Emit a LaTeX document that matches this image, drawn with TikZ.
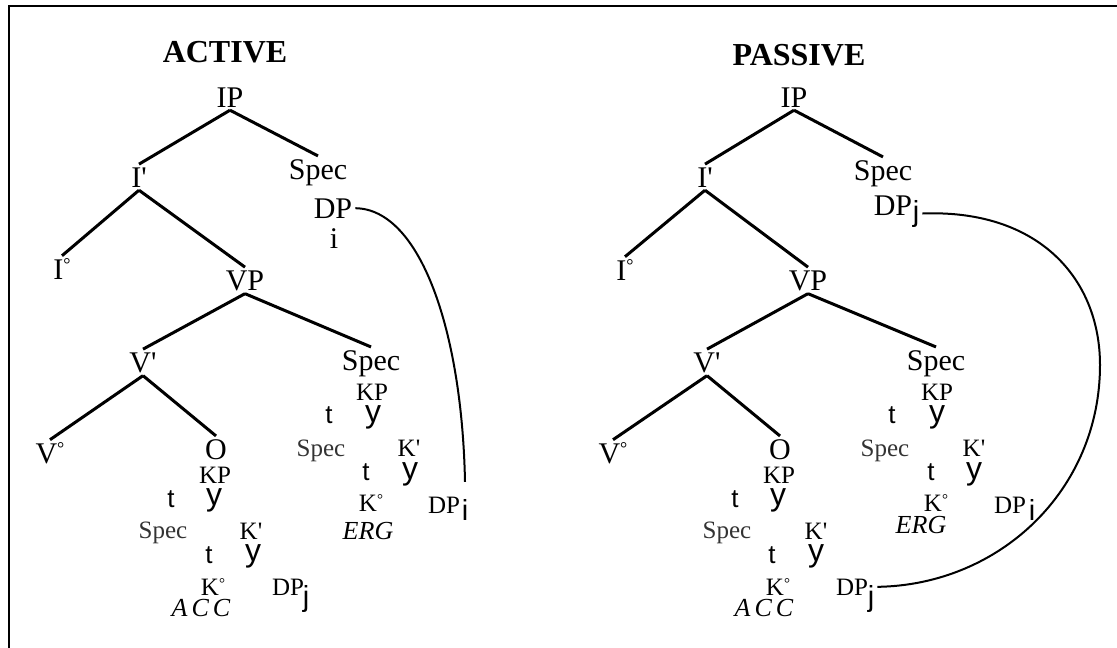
\documentclass[tikz,border=0pt]{standalone}
\usepackage{fontspec}
\setmainfont{Liberation Serif}
\setsansfont{Liberation Sans}
\usepackage{graphicx}
\usepackage{tikz}

% straight apostrophe, kept out of the TeX quote mapping
\newcommand{\tick}{\XeTeXglyph\XeTeXcharglyph"0027\relax}
% small raised degree sign
\newcommand{\dg}{\raisebox{0.27em}{\scalebox{0.6}{°}}}

\tikzset{
  title/.style={font=\fontsize{32}{34}\selectfont\bfseries,anchor=base,inner sep=3pt},
  big/.style={font=\fontsize{30}{32}\selectfont,anchor=base,inner sep=3pt},
  small/.style={font=\fontsize{25}{27}\selectfont,anchor=base,inner sep=3pt},
  minor/.style={small,text=black!80},
  case/.style={font=\fontsize{26}{28}\selectfont\itshape,anchor=base,inner sep=3pt},
  stem/.style={font=\sffamily\fontsize{26}{28}\selectfont,anchor=base,inner sep=2pt},
  fork/.style={font=\sffamily\fontsize{32}{34}\selectfont,anchor=base,inner sep=2pt},
  subs/.style={font=\sffamily\fontsize{29}{31}\selectfont,anchor=base,inner sep=3pt},
  branch/.style={line width=3pt},
  chain/.style={line width=2pt}
}

\begin{document}
\begin{tikzpicture}[x=1pt,y=-1pt]
            \useasboundingbox (0,0) rectangle (1117,648);

            % Frame (top and left only)
            \draw[line width=2.8pt] (9,648) -- (9,6) -- (1117,6);

            % Left side tree labels
            \node[title] (head1) at (225,62) {ACTIVE};
            \node[big] (ip1) at (230,107) {IP};
            \node[big] (ibar1) at (139,187) {I\tick};
            \node[big] (spec1) at (318,179) {Spec};
            \node[big] (dp1) at (333,218) {DP};
            \node[big] (idx1) at (334,248) {i};
            \node[big] (izero1) at (62,279) {I\dg};
            \node[big] (vp1) at (245,290) {VP};
            \node[big] (vbar1) at (143,372) {V\tick};
            \node[big] (specv1) at (371,370) {Spec};
            \node[big] (vzero1) at (50,463) {V\dg};
            \node[big] (obj1) at (216,459) {O};

            % Left side object KP
            \node[small] (kpo1) at (215,483) {KP};
            \node[stem] (to1) at (171,507) {t};
            \node[fork] (yo1) at (214,505) {y};
            \node[minor] (speco1) at (163,538) {Spec};
            \node[small] (kbaro1) at (251,539) {K\tick};
            \node[stem] (tto1) at (209,563) {t};
            \node[fork] (yyo1) at (253,561) {y};
            \node[small] (kzeroo1) at (213,595) {K\dg};
            \node[case] (acc1) at (201,616) {A\kern4pt C\kern4pt C};
            \node[small] (dpj1) at (288,595) {DP};
            \node[subs] (jsub1) at (306,606) {j};

            % Left side subject KP
            \node[small] (kps1) at (372,400) {KP};
            \node[stem] (ts1) at (329,423) {t};
            \node[fork] (ys1) at (373,422) {y};
            \node[minor] (specs1) at (321,456) {Spec};
            \node[small] (kbars1) at (409,456) {K\tick};
            \node[stem] (tts1) at (366,480) {t};
            \node[fork] (yys1) at (410,479) {y};
            \node[small] (kzeros1) at (371,511) {K\dg};
            \node[case] (erg1) at (368,539) {ERG};
            \node[small] (dpi1) at (444,513) {DP};
            \node[subs] (isub1) at (465,520) {i};

            % Left side branches
            \draw[branch] (ip1.south) -- (ibar1.north);
            \draw[branch] (ip1.south) -- (spec1.north);
            \draw[branch] (ibar1.south) -- (izero1.north);
            \draw[branch] (ibar1.south) -- (vp1.north);
            \draw[branch] (vp1.south) -- (vbar1.north);
            \draw[branch] (vp1.south) -- (specv1.north);
            \draw[branch] (vbar1.south) -- (vzero1.north);
            \draw[branch] (vbar1.south) -- (obj1.north);

            % Left side chain
            \draw[chain] (dp1.east) .. controls (420,209) and (462,330) .. ([yshift=14pt]isub1.north);

            % ==================================================

            % Right side tree labels
            \node[title] (head2) at (799,65) {PASSIVE};
            \node[big] (ip2) at (794,107) {IP};
            \node[big] (ibar2) at (705,187) {I\tick};
            \node[big] (spec2) at (883,180) {Spec};
            \node[big] (dp2) at (893,215) {DP};
            \node[subs] (jtop2) at (916,221) {j};
            \node[big] (izero2) at (625,280) {I\dg};
            \node[big] (vp2) at (808,290) {VP};
            \node[big] (vbar2) at (707,372) {V\tick};
            \node[big] (specv2) at (936,370) {Spec};
            \node[big] (vzero2) at (613,463) {V\dg};
            \node[big] (obj2) at (780,459) {O};

            % Right side object KP
            \node[small] (kpo2) at (779,483) {KP};
            \node[stem] (to2) at (735,507) {t};
            \node[fork] (yo2) at (778,505) {y};
            \node[minor] (speco2) at (727,538) {Spec};
            \node[small] (kbaro2) at (816,539) {K\tick};
            \node[stem] (tto2) at (772,563) {t};
            \node[fork] (yyo2) at (816,561) {y};
            \node[small] (kzeroo2) at (778,595) {K\dg};
            \node[case] (acc2) at (764,616) {A\kern4pt C\kern4pt C};
            \node[small] (dpj2) at (852,595) {DP};
            \node[subs] (jsub2) at (871,606) {j};

            % Right side subject KP
            \node[small] (kps2) at (937,400) {KP};
            \node[stem] (ts2) at (892,423) {t};
            \node[fork] (ys2) at (937,422) {y};
            \node[minor] (specs2) at (885,456) {Spec};
            \node[small] (kbars2) at (974,456) {K\tick};
            \node[stem] (tts2) at (931,480) {t};
            \node[fork] (yys2) at (974,479) {y};
            \node[small] (kzeros2) at (936,511) {K\dg};
            \node[case] (erg2) at (921,533) {ERG};
            \node[small] (dpi2) at (1010,513) {DP};
            \node[subs] (isub2) at (1032,520) {i};

            % Right side branches
            \draw[branch] (ip2.south) -- (ibar2.north);
            \draw[branch] (ip2.south) -- (spec2.north);
            \draw[branch] (ibar2.south) -- (izero2.north);
            \draw[branch] (ibar2.south) -- (vp2.north);
            \draw[branch] (vp2.south) -- (vbar2.north);
            \draw[branch] (vp2.south) -- (specv2.north);
            \draw[branch] (vbar2.south) -- (vzero2.north);
            \draw[branch] (vbar2.south) -- (obj2.north);

            % Right side chain
            \draw[chain] (jtop2.east) .. controls (1040,209) and (1100,280) .. (1100,365)
                .. controls (1100,490) and (1000,585) .. (dpj2.east -| jsub2.east);

\end{tikzpicture}
\end{document}
